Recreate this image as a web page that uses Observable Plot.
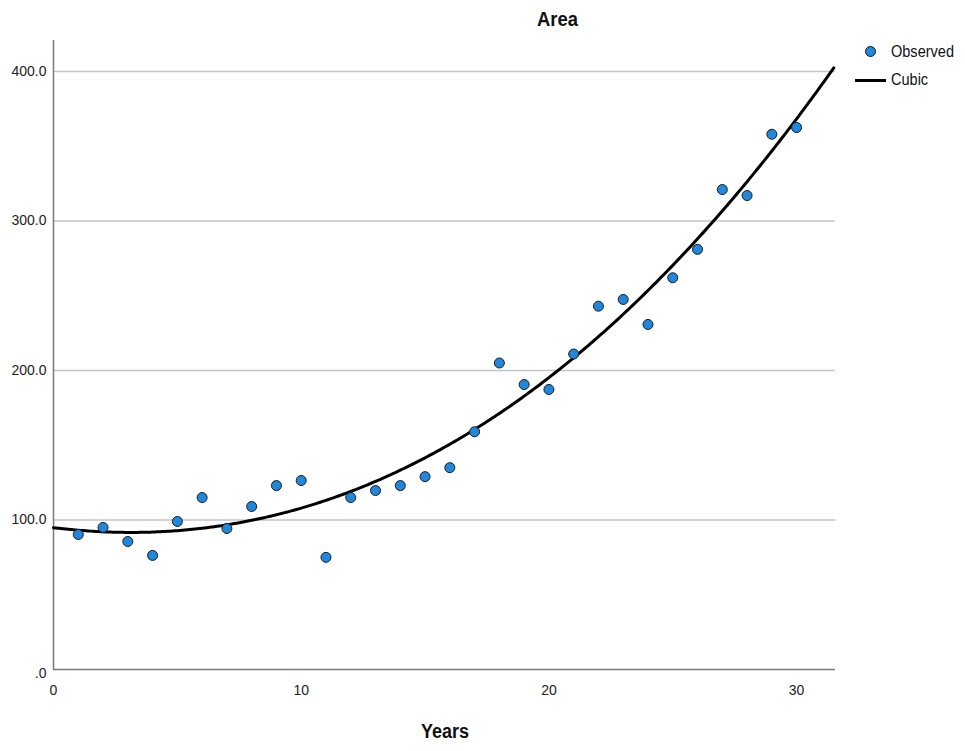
<!DOCTYPE html>
<html><head><meta charset="utf-8">
<script src="https://cdn.jsdelivr.net/npm/d3@7"></script>
<script src="https://cdn.jsdelivr.net/npm/@observablehq/plot@0.6"></script>
<style>
body{margin:0;background:#fff;font-family:"Liberation Sans",Arial,sans-serif;}
#wrap{position:relative;width:965px;height:751px;}
.t{position:absolute;color:#111;white-space:nowrap;transform-origin:left top;}
</style></head><body>
<div id="wrap"></div>
<script>
const years = [1,2,3,4,5,6,7,8,9,10,11,12,13,14,15,16,17,18,19,20,21,22,23,24,25,26,27,28,29,30];
const area = [90.3,95,85.6,76.3,99,115,94.3,109,123,126.4,75,115,119.7,123,129,135,159,205,190.6,187.3,211,243,247.5,230.8,262,281,321,317,358,362.5];
const yTicks = [0,100,200,300,400];
const xTicks = [0,10,20,30];
const xMax = 31.57, yMax = 420.7;

const obs = years.map((x,i)=>({x, y: area[i]}));

// cubic least-squares fit of the observed data
function cubicFit(xs, ys){
  const n=4, A=[...Array(n)].map(()=>Array(n+1).fill(0));
  xs.forEach((x,k)=>{
    for(let i=0;i<n;i++){ for(let j=0;j<n;j++) A[i][j]+=Math.pow(x,i+j); A[i][n]+=ys[k]*Math.pow(x,i); }
  });
  for(let i=0;i<n;i++){
    let p=i; for(let r=i+1;r<n;r++) if(Math.abs(A[r][i])>Math.abs(A[p][i])) p=r;
    [A[i],A[p]]=[A[p],A[i]];
    for(let r=0;r<n;r++){ if(r===i) continue; const f=A[r][i]/A[i][i]; for(let c=i;c<=n;c++) A[r][c]-=f*A[i][c]; }
  }
  return A.map((row,i)=>row[n]/row[i]);
}
const b = cubicFit(years, area);
const fit = d3.range(0, xMax+0.001, 0.1).map(x=>({x, y: b[0]+b[1]*x+b[2]*x*x+b[3]*x*x*x}));

const yFmt = d => d===0 ? ".0" : d.toFixed(1);
const chart = Plot.plot({
  width: 965, height: 751,
  marginLeft: 53, marginRight: 130, marginTop: 40, marginBottom: 82,
  style: {fontFamily: '"Liberation Sans",Arial,sans-serif', fontSize: "14px", color:"#222", background:"#fff"},
  x: {domain:[0,xMax], axis:null},
  y: {domain:[0,yMax], axis:null},
  marks: [
    Plot.ruleY(yTicks.filter(d=>d>0), {stroke:"#c4c4c4", strokeWidth:1.6}),
    Plot.text(yTicks.filter(d=>d>0), {x:0, y:d=>d, text:yFmt, textAnchor:"end", dx:-7, fontSize:14, fill:"#222"}),
    Plot.text([0], {x:0, y:d=>d, text:yFmt, textAnchor:"end", dx:-7, dy:4, fontSize:14, fill:"#222"}),
    Plot.text(xTicks, {x:d=>d, y:0, text:d=>String(d), dy:21, fontSize:14, fill:"#222"}),
    Plot.ruleX([0], {stroke:"#7a7a7a", strokeWidth:1.5}),
    Plot.ruleY([0], {stroke:"#7a7a7a", strokeWidth:1.5}),
    Plot.line(fit, {x:"x", y:"y", stroke:"#000", strokeWidth:3, curve:"linear"}),
    Plot.dot(obs, {x:"x", y:"y", r:5, fill:"#1f88dc", stroke:"#1a1a1a", strokeWidth:1})
  ]
});
const wrap = document.getElementById("wrap");
wrap.appendChild(chart);

function txt(s, left, top, css){ const d=document.createElement("div"); d.className="t"; d.textContent=s; d.style.left=left+"px"; d.style.top=top+"px"; Object.assign(d.style, css||{}); wrap.appendChild(d); return d; }
txt("Area", 537, 8, {fontWeight:"bold", fontSize:"20px", transform:"scaleX(0.92)"});
txt("Years", 421, 720, {fontWeight:"bold", fontSize:"20px", transform:"scaleX(0.9)"});
txt("Observed", 891, 42, {fontSize:"16.5px", transform:"scaleX(0.88)"});
txt("Cubic", 891, 70, {fontSize:"16.5px", transform:"scaleX(0.88)"});
const dot=document.createElement("div");
Object.assign(dot.style,{position:"absolute",left:"865px",top:"46px",width:"9px",height:"9px",borderRadius:"50%",background:"#1f88dc",border:"1px solid #1a1a1a"});
wrap.appendChild(dot);
const ln=document.createElement("div");
Object.assign(ln.style,{position:"absolute",left:"855px",top:"79px",width:"31px",height:"3px",background:"#000"});
wrap.appendChild(ln);
</script>
</body></html>
